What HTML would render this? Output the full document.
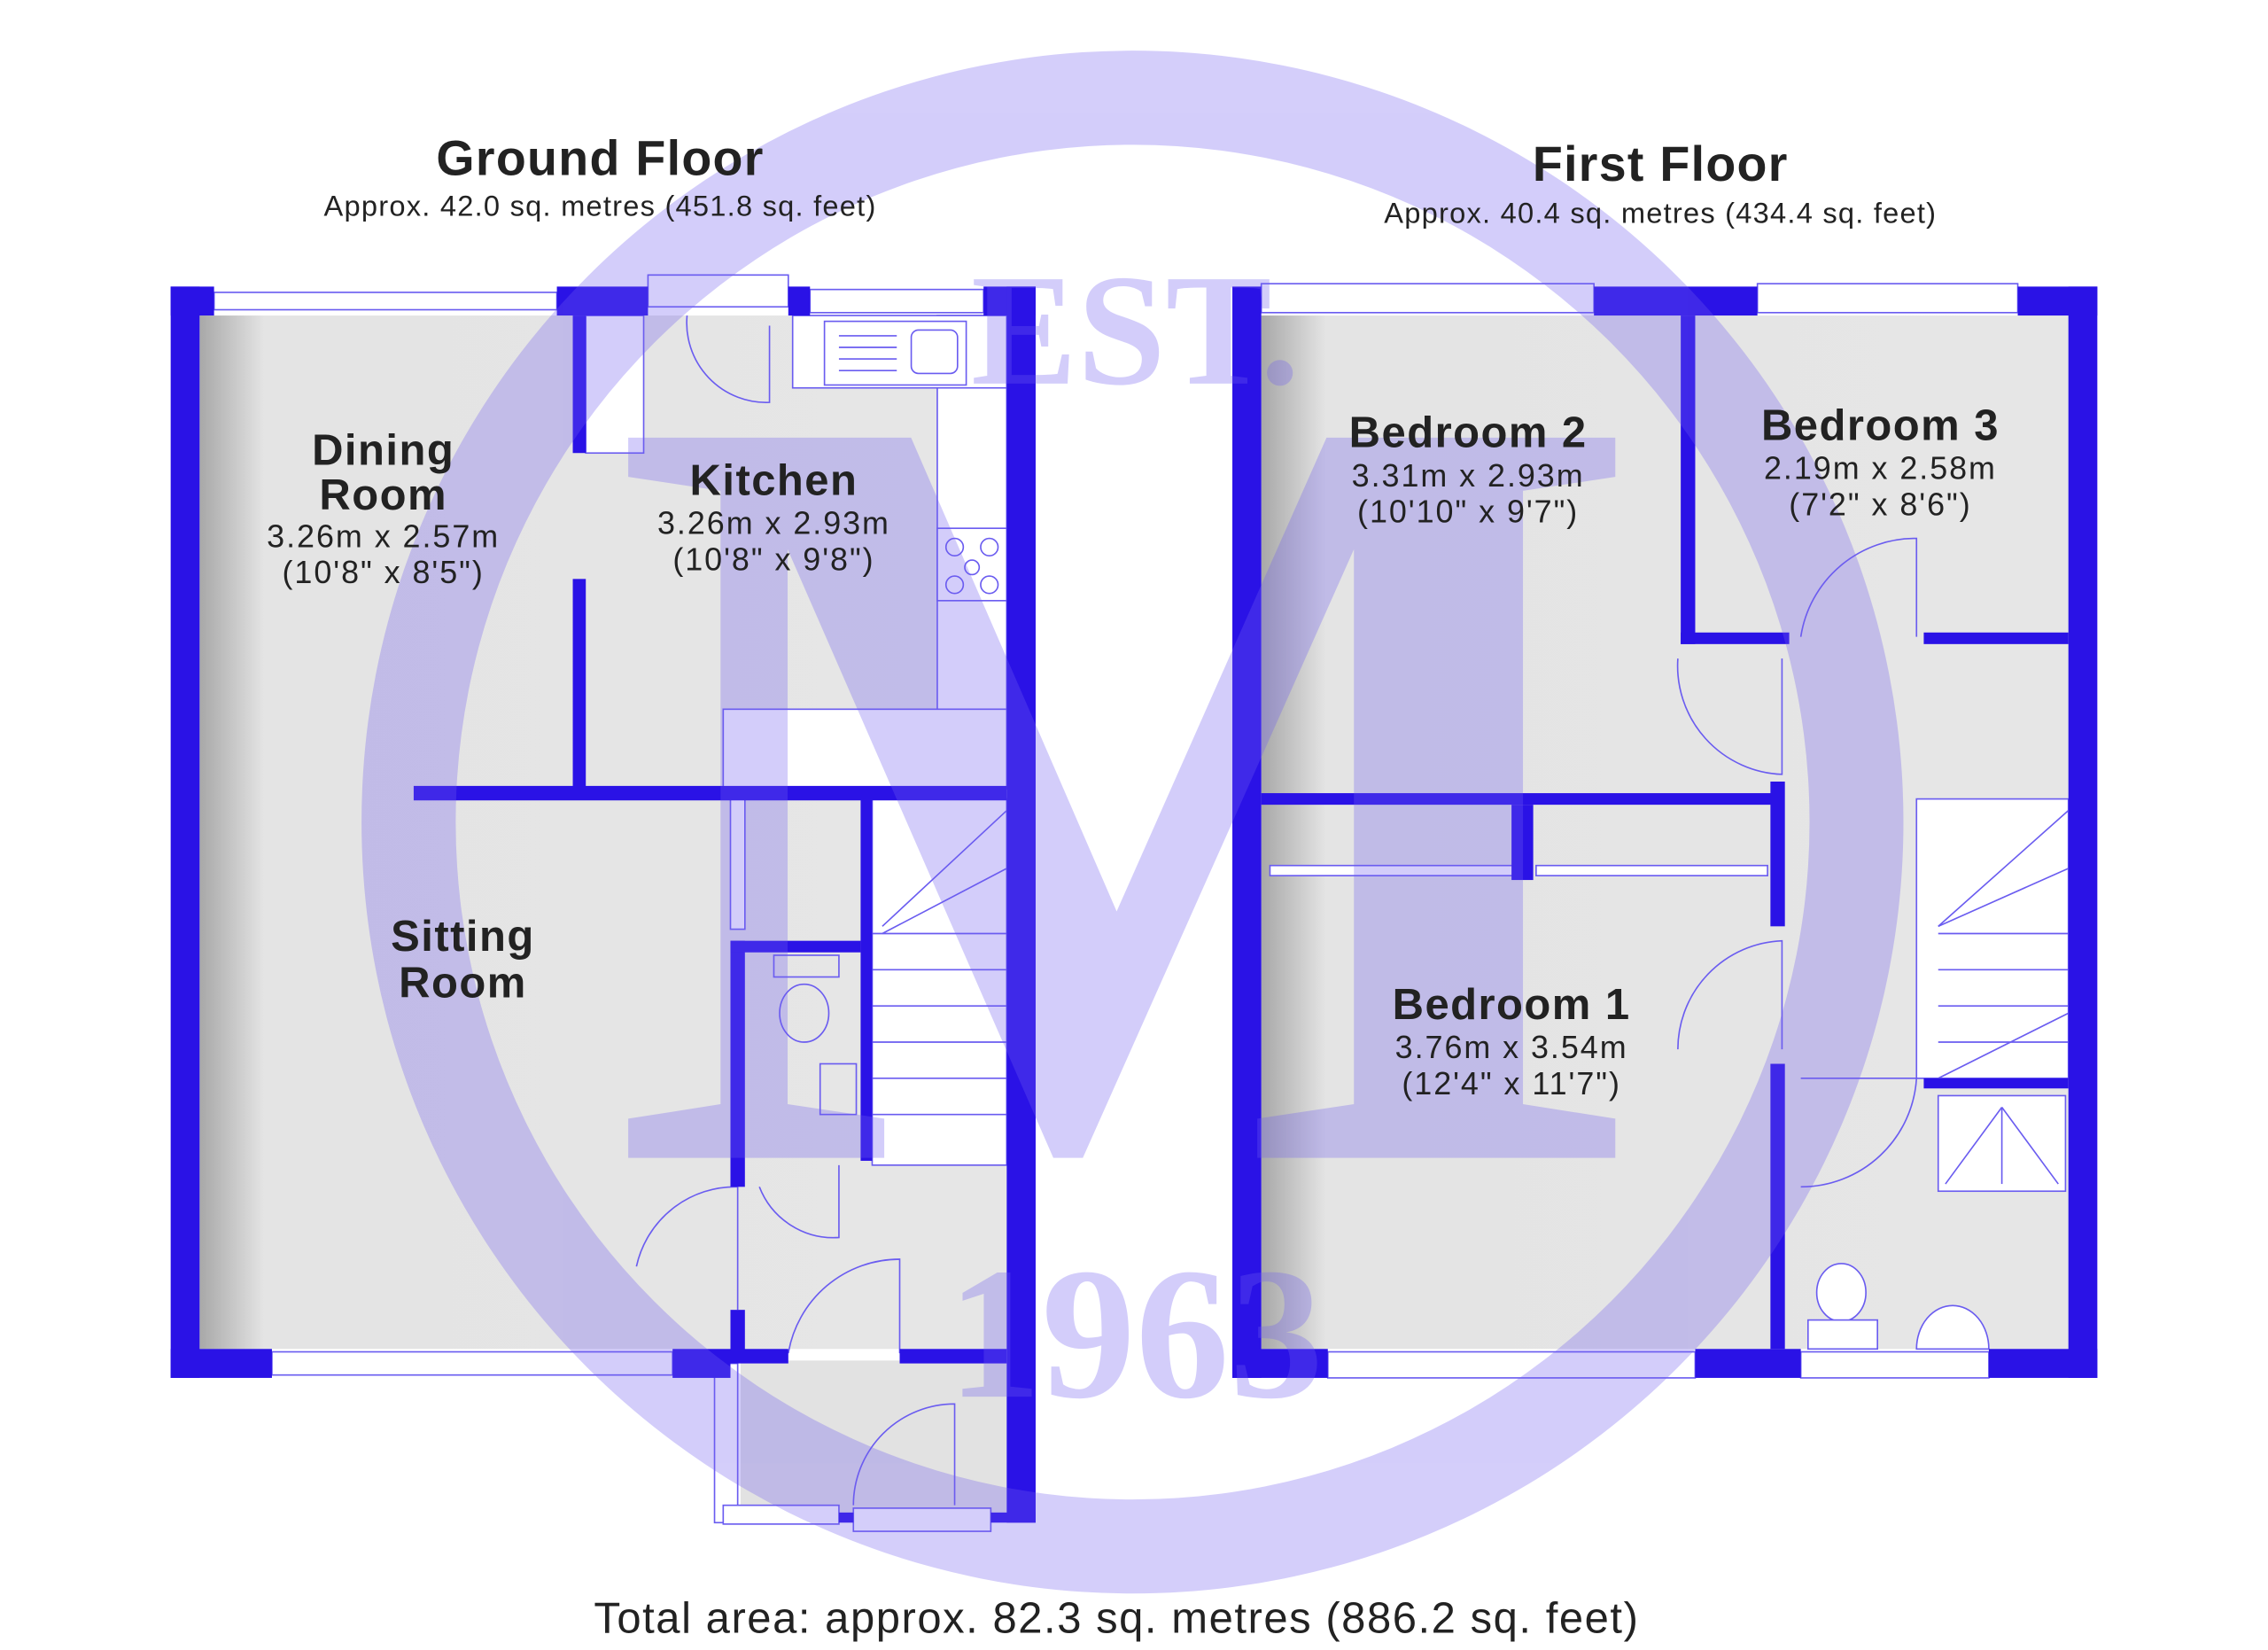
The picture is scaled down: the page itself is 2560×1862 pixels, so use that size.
<!DOCTYPE html>
<html><head><meta charset="utf-8"><style>
html,body{margin:0;padding:0;background:#fff}
svg{display:block}
</style></head><body>
<svg width="2560" height="1862" viewBox="0 0 1568 1140" preserveAspectRatio="none" xmlns="http://www.w3.org/2000/svg" font-family="Liberation Sans, sans-serif">
<defs>
<linearGradient id="shL" x1="0" x2="1"><stop offset="0" stop-color="#a8a8a8"/><stop offset="0.08" stop-color="#e4e4e4"/><stop offset="1" stop-color="#e6e6e6"/></linearGradient>
</defs>
<rect width="1568" height="1140" fill="#fff"/>
<rect x="138" y="218" width="558" height="714" fill="url(#shL)"/>
<rect x="512" y="940" width="184" height="105" fill="#e2e2e2"/>
<rect x="872" y="218" width="558" height="714" fill="url(#shL)"/>
<g fill="#fff" stroke="#6a5cf0" stroke-width="1">
<rect x="405" y="218" width="40" height="95"/>
<rect x="648" y="218" width="48" height="272"/>
<rect x="500" y="490" width="196" height="55"/>
<rect x="548" y="218" width="148" height="50"/>
<rect x="570" y="222" width="98" height="44"/>
<rect x="648" y="365" width="48" height="50"/>
<rect x="603" y="552" width="93" height="253"/>
<rect x="505" y="552" width="10" height="90"/>
<rect x="1325" y="552" width="105" height="193"/>
<rect x="1340" y="757" width="88" height="66"/>
<ellipse cx="1273" cy="893" rx="17" ry="20"/><rect x="1250" y="912" width="48" height="20"/>
<path d="M1325 932 A25 30 0 0 1 1375 932 Z"/>
</g>
<g stroke="#6a5cf0" stroke-width="1" fill="none">
<line x1="580" y1="232" x2="620" y2="232"/><line x1="580" y1="240" x2="620" y2="240"/><line x1="580" y1="248" x2="620" y2="248"/><line x1="580" y1="256" x2="620" y2="256"/>
<rect x="630" y="228" width="32" height="30" rx="5"/>
<circle cx="660" cy="378" r="6"/><circle cx="684" cy="378" r="6"/><circle cx="672" cy="392" r="5"/><circle cx="660" cy="404" r="6"/><circle cx="684" cy="404" r="6"/>
<line x1="603" y1="645" x2="696" y2="645"/><line x1="603" y1="670" x2="696" y2="670"/><line x1="603" y1="695" x2="696" y2="695"/><line x1="603" y1="720" x2="696" y2="720"/><line x1="603" y1="745" x2="696" y2="745"/><line x1="603" y1="770" x2="696" y2="770"/>
<line x1="610" y1="640" x2="696" y2="560"/><line x1="610" y1="645" x2="696" y2="600"/>
<ellipse cx="556" cy="700" rx="17" ry="20"/><rect x="535" y="660" width="45" height="15"/>
<rect x="567" y="735" width="25" height="35"/>
<path d="M532 225 L532 278 A55 55 0 0 1 475 218"/>
<path d="M440 875 A70 70 0 0 1 510 820 L510 905"/>
<path d="M545 935 A78 78 0 0 1 622 870 L622 935"/>
<path d="M590 1040 A70 70 0 0 1 660 970 L660 1040"/>
<path d="M525 820 A55 55 0 0 0 580 855 L580 805"/>
<path d="M1245 440 A80 80 0 0 1 1325 372 L1325 440"/>
<path d="M1160 455 A75 75 0 0 0 1232 535 L1232 455"/>
<path d="M1160 725 A75 75 0 0 1 1232 650 L1232 725"/>
<path d="M1245 820 A80 80 0 0 0 1325 745 L1245 745"/>
<line x1="1340" y1="645" x2="1430" y2="645"/><line x1="1340" y1="670" x2="1430" y2="670"/><line x1="1340" y1="695" x2="1430" y2="695"/><line x1="1340" y1="720" x2="1430" y2="720"/>
<line x1="1340" y1="640" x2="1430" y2="560"/><line x1="1340" y1="640" x2="1430" y2="600"/>
<line x1="1345" y1="818" x2="1384" y2="765"/><line x1="1423" y1="818" x2="1384" y2="765"/><line x1="1384" y1="765" x2="1384" y2="818"/>
<line x1="1340" y1="745" x2="1430" y2="700"/>
</g>
<g fill="#fff" stroke="#6a5cf0" stroke-width="1">
<rect x="148" y="202" width="237" height="12"/>
<rect x="560" y="200" width="120" height="16"/>
<rect x="448" y="190" width="97" height="22"/>
<rect x="188" y="934" width="277" height="16"/>
<rect x="494" y="942" width="16" height="110"/>
<rect x="500" y="1040" width="80" height="13"/>
<rect x="590" y="1042" width="95" height="16"/>
<rect x="872" y="196" width="230" height="20"/>
<rect x="1215" y="196" width="180" height="20"/>
<rect x="918" y="934" width="254" height="18"/>
<rect x="1245" y="934" width="130" height="18"/>
<rect x="878" y="598" width="170" height="7"/>
<rect x="1062" y="598" width="160" height="7"/>
</g>
<g fill="#2a12e6">
<rect x="118" y="198" width="30" height="20"/>
<rect x="118" y="198" width="20" height="754"/>
<rect x="385" y="198" width="63" height="20"/>
<rect x="545" y="198" width="15" height="20"/>
<rect x="680" y="198" width="36" height="20"/>
<rect x="696" y="198" width="20" height="854"/>
<rect x="118" y="932" width="70" height="20"/>
<rect x="465" y="932" width="40" height="20"/>
<rect x="396" y="218" width="9" height="95"/>
<rect x="396" y="400" width="9" height="150"/>
<rect x="286" y="543" width="410" height="10"/>
<rect x="505" y="650" width="10" height="170"/>
<rect x="505" y="650" width="90" height="8"/>
<rect x="595" y="552" width="8" height="250"/>
<rect x="505" y="905" width="10" height="35"/>
<rect x="505" y="932" width="40" height="10"/>
<rect x="622" y="932" width="74" height="10"/>
<rect x="580" y="1045" width="10" height="7"/>
<rect x="685" y="1045" width="31" height="7"/>
<rect x="852" y="198" width="20" height="754"/>
<rect x="1102" y="198" width="113" height="20"/>
<rect x="1395" y="198" width="55" height="20"/>
<rect x="1430" y="198" width="20" height="754"/>
<rect x="852" y="932" width="66" height="20"/>
<rect x="1172" y="932" width="73" height="20"/>
<rect x="1375" y="932" width="75" height="20"/>
<rect x="1162" y="218" width="10" height="227"/>
<rect x="1162" y="437" width="75" height="8"/>
<rect x="1330" y="437" width="100" height="8"/>
<rect x="872" y="548" width="360" height="8"/>
<rect x="1045" y="556" width="15" height="52"/>
<rect x="1224" y="540" width="10" height="100"/>
<rect x="1224" y="735" width="10" height="197"/>
<rect x="1330" y="745" width="100" height="7"/>
</g>
<g opacity="0.3" fill="#6f5ef0">
<path fill-rule="evenodd" d="M783 35 A533 533 0 1 1 782.9 35 Z M783 100 A468 468 0 1 0 783.1 100 Z"/>
<text x="780" y="800" font-family="Liberation Serif, serif" font-size="760" font-weight="bold" text-anchor="middle">M</text>
<text x="785" y="265" font-family="Liberation Serif, serif" font-size="110" font-weight="bold" text-anchor="middle">EST.</text>
<text x="785" y="965" font-family="Liberation Serif, serif" font-size="130" font-weight="bold" text-anchor="middle">1963</text>
</g>
<g fill="#222" text-anchor="middle">
<text x="415" y="121" font-size="34" font-weight="bold" letter-spacing="0.8">Ground Floor</text>
<text x="415" y="149" font-size="20" letter-spacing="0.75">Approx. 42.0 sq. metres (451.8 sq. feet)</text>
<text x="1148" y="125" font-size="34" font-weight="bold" letter-spacing="0.8">First Floor</text>
<text x="1148" y="154" font-size="20" letter-spacing="0.75">Approx. 40.4 sq. metres (434.4 sq. feet)</text>
<text x="772" y="1128" font-size="30" letter-spacing="0.95">Total area: approx. 82.3 sq. metres (886.2 sq. feet)</text>
<g font-size="30" font-weight="bold" letter-spacing="0.9">
<text x="265" y="321">Dining</text><text x="265" y="352">Room</text>
<text x="535" y="342">Kitchen</text>
<text x="320" y="657">Sitting</text><text x="320" y="689">Room</text>
<text x="1015" y="309">Bedroom 2</text>
<text x="1300" y="304">Bedroom 3</text>
<text x="1045" y="704">Bedroom 1</text>
</g>
<g font-size="22" letter-spacing="1.2">
<text x="265" y="378">3.26m x 2.57m</text><text x="265" y="403">(10'8" x 8'5")</text>
<text x="535" y="369">3.26m x 2.93m</text><text x="535" y="394">(10'8" x 9'8")</text>
<text x="1015" y="336">3.31m x 2.93m</text><text x="1015" y="361">(10'10" x 9'7")</text>
<text x="1300" y="331">2.19m x 2.58m</text><text x="1300" y="356">(7'2" x 8'6")</text>
<text x="1045" y="731">3.76m x 3.54m</text><text x="1045" y="756">(12'4" x 11'7")</text>
</g>
</g>
</svg>
</body></html>
